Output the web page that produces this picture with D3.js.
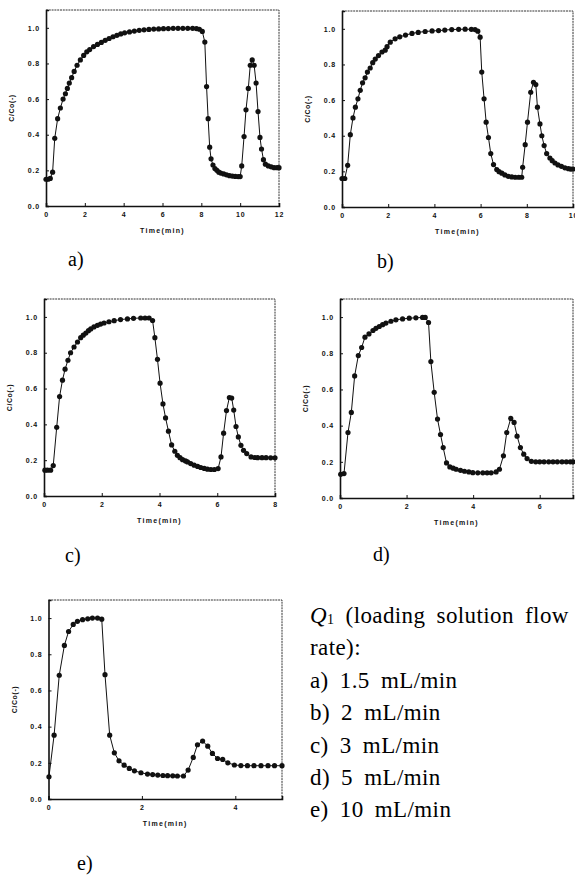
<!DOCTYPE html>
<html>
<head>
<meta charset="utf-8">
<script src="https://cdn.jsdelivr.net/npm/d3@7"></script>
<style>
  html, body { margin: 0; padding: 0; background: #fff; }
  svg { display: block; }
</style>
</head>
<body>
<div id="chart"></div>
<script>
/* -----------------    DATA     ------------------ */

// Panel labels and x ranges (min)
const panelLetters = ['a)', 'b)', 'c)', 'd)', 'e)'];
const timeMax = [12, 10, 8, 7, 5];

// Tick values
const yTicks = [0, 0.2, 0.4, 0.6, 0.8, 1.0];
const xTicksA = [0, 2, 4, 6, 8, 10, 12];
const xTicksB = [0, 2, 4, 6, 8, 10];
const xTicksC = [0, 2, 4, 6, 8];
const xTicksD = [0, 2, 4, 6];
const xTicksE = [0, 2, 4];

// Axis titles
const xTitle = 'Time(min)';
const yTitle = 'C/Co(-)';

// C/Co vs time, [time, C/Co]
const curveA = [
    [0.00, 0.15], [0.11, 0.15], [0.22, 0.155], [0.34, 0.19], [0.45, 0.38], [0.60, 0.49],
    [0.74, 0.55], [0.88, 0.60], [1.00, 0.63], [1.10, 0.66], [1.20, 0.69], [1.32, 0.72],
    [1.45, 0.755], [1.60, 0.79], [1.77, 0.82], [1.94, 0.845], [2.10, 0.865], [2.25, 0.878],
    [2.45, 0.895], [2.65, 0.907], [2.85, 0.918], [3.05, 0.93], [3.25, 0.94], [3.45, 0.95],
    [3.65, 0.958], [3.85, 0.966], [4.05, 0.972], [4.30, 0.977], [4.55, 0.982], [4.80, 0.986],
    [5.05, 0.989], [5.30, 0.991], [5.55, 0.993], [5.80, 0.994], [6.05, 0.995], [6.30, 0.996],
    [6.55, 0.997], [6.80, 0.997], [7.05, 0.997], [7.30, 0.997], [7.55, 0.997], [7.75, 0.996],
    [7.90, 0.992], [8.05, 0.98], [8.18, 0.92], [8.27, 0.67], [8.35, 0.49], [8.43, 0.33],
    [8.50, 0.265], [8.60, 0.23], [8.70, 0.21], [8.80, 0.20], [8.90, 0.19], [9.00, 0.185],
    [9.15, 0.18], [9.30, 0.175], [9.45, 0.17], [9.60, 0.168], [9.75, 0.166], [9.90, 0.165],
    [10.00, 0.165], [10.08, 0.225], [10.20, 0.39], [10.30, 0.54], [10.42, 0.66], [10.52, 0.79],
    [10.62, 0.82], [10.72, 0.79], [10.82, 0.69], [10.92, 0.53], [11.02, 0.385], [11.10, 0.32],
    [11.20, 0.26], [11.30, 0.235], [11.45, 0.225], [11.60, 0.22], [11.75, 0.215], [11.90, 0.215],
    [12.00, 0.215]
];

const curveB = [
    [0.00, 0.16], [0.12, 0.16], [0.245, 0.234], [0.36, 0.406], [0.475, 0.50], [0.58, 0.56],
    [0.69, 0.607], [0.79, 0.655], [0.89, 0.697], [1.00, 0.725], [1.10, 0.757], [1.22, 0.78],
    [1.33, 0.81], [1.44, 0.83], [1.58, 0.85], [1.73, 0.87], [1.87, 0.88], [1.95, 0.90],
    [2.09, 0.925], [2.30, 0.944], [2.50, 0.955], [2.75, 0.965], [3.03, 0.974], [3.30, 0.98],
    [3.60, 0.985], [3.90, 0.988], [4.18, 0.99], [4.45, 0.993], [4.75, 0.996], [5.05, 0.997],
    [5.33, 0.998], [5.60, 0.997], [5.76, 0.996], [5.88, 0.987], [5.98, 0.953], [6.05, 0.757],
    [6.15, 0.607], [6.24, 0.476], [6.34, 0.39], [6.44, 0.30], [6.56, 0.238], [6.70, 0.21],
    [6.80, 0.198], [6.92, 0.19], [7.05, 0.18], [7.20, 0.172], [7.35, 0.169], [7.50, 0.167],
    [7.65, 0.167], [7.78, 0.167], [7.82, 0.223], [7.93, 0.35], [8.03, 0.476], [8.17, 0.644],
    [8.29, 0.70], [8.39, 0.687], [8.46, 0.56], [8.57, 0.466], [8.65, 0.40], [8.75, 0.345],
    [8.86, 0.30], [9.00, 0.275], [9.10, 0.26], [9.22, 0.247], [9.35, 0.236], [9.50, 0.228],
    [9.65, 0.22], [9.80, 0.215], [9.90, 0.213], [10.00, 0.213]
];

const curveC = [
    [0.03, 0.144], [0.12, 0.144], [0.23, 0.144], [0.32, 0.17], [0.44, 0.384], [0.54, 0.555],
    [0.64, 0.647], [0.73, 0.708], [0.83, 0.758], [0.92, 0.80], [1.04, 0.832], [1.16, 0.86],
    [1.27, 0.884], [1.36, 0.898], [1.45, 0.91], [1.54, 0.923], [1.62, 0.933], [1.73, 0.944],
    [1.85, 0.953], [1.96, 0.96], [2.08, 0.966], [2.25, 0.973], [2.43, 0.979], [2.65, 0.985],
    [2.89, 0.989], [3.10, 0.992], [3.35, 0.994], [3.50, 0.994], [3.64, 0.994], [3.76, 0.98],
    [3.84, 0.884], [3.93, 0.763], [4.02, 0.63], [4.12, 0.514], [4.21, 0.436], [4.31, 0.362],
    [4.42, 0.285], [4.53, 0.25], [4.62, 0.227], [4.71, 0.214], [4.80, 0.203], [4.90, 0.196],
    [4.97, 0.19], [5.08, 0.181], [5.20, 0.172], [5.32, 0.165], [5.43, 0.159], [5.55, 0.154],
    [5.66, 0.15], [5.78, 0.148], [5.90, 0.148], [6.03, 0.153], [6.13, 0.218], [6.22, 0.351],
    [6.32, 0.477], [6.42, 0.55], [6.50, 0.547], [6.57, 0.48], [6.65, 0.388], [6.73, 0.33],
    [6.82, 0.283], [6.91, 0.255], [7.02, 0.237], [7.17, 0.218], [7.30, 0.215], [7.40, 0.214],
    [7.55, 0.214], [7.69, 0.214], [7.85, 0.213], [8.00, 0.213]
];

const curveD = [
    [0.02, 0.131], [0.12, 0.135], [0.24, 0.362], [0.34, 0.473], [0.44, 0.675], [0.55, 0.787],
    [0.65, 0.832], [0.75, 0.889], [0.87, 0.907], [0.99, 0.926], [1.08, 0.938], [1.18, 0.948],
    [1.28, 0.958], [1.38, 0.967], [1.53, 0.977], [1.68, 0.985], [1.88, 0.99], [2.08, 0.994],
    [2.28, 0.996], [2.48, 0.998], [2.56, 0.998], [2.66, 0.97], [2.73, 0.754], [2.83, 0.584],
    [2.93, 0.436], [3.02, 0.351], [3.10, 0.279], [3.20, 0.194], [3.30, 0.172], [3.40, 0.165],
    [3.49, 0.159], [3.62, 0.153], [3.74, 0.148], [3.87, 0.144], [3.99, 0.14], [4.14, 0.139],
    [4.29, 0.139], [4.42, 0.139], [4.54, 0.139], [4.69, 0.144], [4.79, 0.159], [4.91, 0.233],
    [5.01, 0.362], [5.13, 0.44], [5.23, 0.418], [5.32, 0.342], [5.42, 0.279], [5.52, 0.242],
    [5.62, 0.218], [5.75, 0.203], [5.88, 0.2], [6.00, 0.2], [6.13, 0.2], [6.27, 0.2],
    [6.40, 0.2], [6.53, 0.2], [6.67, 0.2], [6.80, 0.2], [6.92, 0.2], [7.00, 0.2]
];

const curveE = [
    [0.01, 0.123], [0.12, 0.353], [0.23, 0.684], [0.34, 0.849], [0.43, 0.926], [0.53, 0.965],
    [0.62, 0.982], [0.73, 0.991], [0.84, 0.996], [0.94, 1.0], [1.05, 1.0], [1.14, 0.994],
    [1.21, 0.687], [1.31, 0.353], [1.41, 0.255], [1.51, 0.211], [1.62, 0.187], [1.73, 0.169],
    [1.84, 0.156], [1.98, 0.145], [2.12, 0.138], [2.23, 0.135], [2.34, 0.132], [2.45, 0.13],
    [2.55, 0.129], [2.66, 0.128], [2.76, 0.127], [2.89, 0.127], [2.99, 0.16], [3.10, 0.23],
    [3.19, 0.30], [3.30, 0.32], [3.41, 0.292], [3.51, 0.252], [3.62, 0.224], [3.73, 0.219],
    [3.84, 0.20], [3.98, 0.188], [4.12, 0.185], [4.26, 0.184], [4.40, 0.184], [4.55, 0.184],
    [4.70, 0.184], [4.84, 0.184], [5.00, 0.184]
];

// Legend text beside panel e
const legendTitle = ['(loading solution flow', 'rate):'];
const legendRates = ['a) 1.5 mL/min', 'b) 2 mL/min', 'c) 3 mL/min', 'd) 5 mL/min', 'e) 10 mL/min'];

/* -----------------    CONSTANTS     ------------------ */
const graphSettings = {

    // SVG
    svgWidth: 575,
    svgHeight: 877,

    // Colors
    ink: '#111',

    // Marker
    dotRadius: 2.6,

    // Fonts
    sans: "'Liberation Sans', Arial, sans-serif",
    serif: "'Liberation Serif', 'Times New Roman', serif"
};

// Frame boxes of the five panels (px)
const frames = [
    { left: 46, right: 279, top: 10, bottom: 206, letterX: 68, letterY: 266 },
    { left: 342, right: 573, top: 11, bottom: 207, letterX: 377, letterY: 268 },
    { left: 44, right: 275, top: 299, bottom: 496, letterX: 65, letterY: 562 },
    { left: 340, right: 573, top: 299, bottom: 498, letterX: 373, letterY: 561 },
    { left: 48.5, right: 282, top: 600, bottom: 799, letterX: 77, letterY: 870 }
];

const curves = [curveA, curveB, curveC, curveD, curveE];
const xTickSets = [xTicksA, xTicksB, xTicksC, xTicksD, xTicksE];

/* -----------------    LOGIC     ------------------ */

const svg = d3.select('#chart')
    .append('svg')
    .attr('width', graphSettings.svgWidth)
    .attr('height', graphSettings.svgHeight);

frames.forEach((frame, i) => drawPanel(frame, i));
drawLegend();

function drawPanel (frame, i) {

    const g = svg.append('g').attr('class', 'panel');

    // Scales
    const xScale = d3.scaleLinear()
        .domain([0, timeMax[i]])
        .range([frame.left, frame.right]);

    const yScale = d3.scaleLinear()
        .domain([0, 1.1])
        .range([frame.bottom, frame.top]);

    // Top and right edges of the box (thin, broken)
    g.append('path')
        .attr('d', `M${frame.left},${frame.top}H${frame.right}V${frame.bottom}`)
        .attr('fill', 'none')
        .attr('stroke', '#333')
        .attr('stroke-width', 1)
        .attr('stroke-dasharray', '2,0.8');

    // Axes
    const xAxis = d3.axisBottom(xScale)
        .tickValues(xTickSets[i])
        .tickFormat(d3.format('d'))
        .tickSize(-3)
        .tickPadding(6);

    const yAxis = d3.axisLeft(yScale)
        .tickValues(yTicks)
        .tickFormat(d3.format('.1f'))
        .tickSize(-3)
        .tickPadding(6);

    const gx = g.append('g')
        .attr('transform', `translate(0, ${frame.bottom})`)
        .call(xAxis);

    const gy = g.append('g')
        .attr('transform', `translate(${frame.left}, 0)`)
        .call(yAxis);

    [gx, gy].forEach(ax => {
        ax.select('.domain')
            .attr('stroke', graphSettings.ink)
            .attr('stroke-width', 1.6);
        ax.selectAll('.tick line')
            .attr('stroke', graphSettings.ink)
            .attr('stroke-width', 1);
        ax.selectAll('.tick text')
            .attr('fill', graphSettings.ink)
            .style('font-family', graphSettings.sans)
            .style('font-size', '7px')
            .style('font-weight', 'bold')
            .style('letter-spacing', '0.8px');
    });

    // Axis titles
    g.append('text')
        .attr('x', (frame.left + frame.right) / 2)
        .attr('y', frame.bottom + 27)
        .attr('text-anchor', 'middle')
        .attr('fill', graphSettings.ink)
        .style('font-family', graphSettings.sans)
        .style('font-size', '7px')
        .style('font-weight', 'bold')
        .style('letter-spacing', '1.3px')
        .text(xTitle);

    g.append('text')
        .attr('transform', `translate(${frame.left - 32}, ${yScale(0.55)}) rotate(-90)`)
        .attr('text-anchor', 'middle')
        .attr('fill', graphSettings.ink)
        .style('font-family', graphSettings.sans)
        .style('font-size', '7px')
        .style('font-weight', 'bold')
        .style('letter-spacing', '0.6px')
        .text(yTitle);

    // Curve
    const line = d3.line()
        .x(d => xScale(d[0]))
        .y(d => yScale(d[1]));

    g.append('path')
        .datum(curves[i])
        .attr('d', line)
        .attr('fill', 'none')
        .attr('stroke', graphSettings.ink)
        .attr('stroke-width', 1);

    g.append('g')
        .selectAll('circle')
        .data(curves[i])
        .enter()
        .append('circle')
        .attr('cx', d => xScale(d[0]))
        .attr('cy', d => yScale(d[1]))
        .attr('r', graphSettings.dotRadius)
        .attr('fill', graphSettings.ink);

    // Panel letter
    svg.append('text')
        .attr('x', frame.letterX)
        .attr('y', frame.letterY)
        .attr('fill', '#000')
        .style('font-family', graphSettings.serif)
        .style('font-size', '20px')
        .text(panelLetters[i]);
}

function drawLegend () {

    const legend = svg.append('g')
        .attr('transform', 'translate(310, 0)')
        .style('font-family', graphSettings.serif)
        .style('font-size', '23px')
        .style('letter-spacing', '0.4px')
        .style('word-spacing', '5px')
        .attr('fill', '#000');

    // First line: Q1 (loading solution flow
    const first = legend.append('text').attr('x', 0).attr('y', 623);
    first.append('tspan').style('font-style', 'italic').text('Q');
    first.append('tspan').attr('dy', 1).style('font-size', '14px').text('1');
    first.append('tspan').attr('dy', -1).text(' ' + legendTitle[0]);

    legend.append('text')
        .attr('x', 0)
        .attr('y', 655)
        .text(legendTitle[1]);

    legend.selectAll('text.rate')
        .data(legendRates)
        .enter()
        .append('text')
        .attr('class', 'rate')
        .attr('x', 0)
        .attr('y', (d, i) => 688 + i * 32.3)
        .text(d => d);
}
</script>
</body>
</html>
